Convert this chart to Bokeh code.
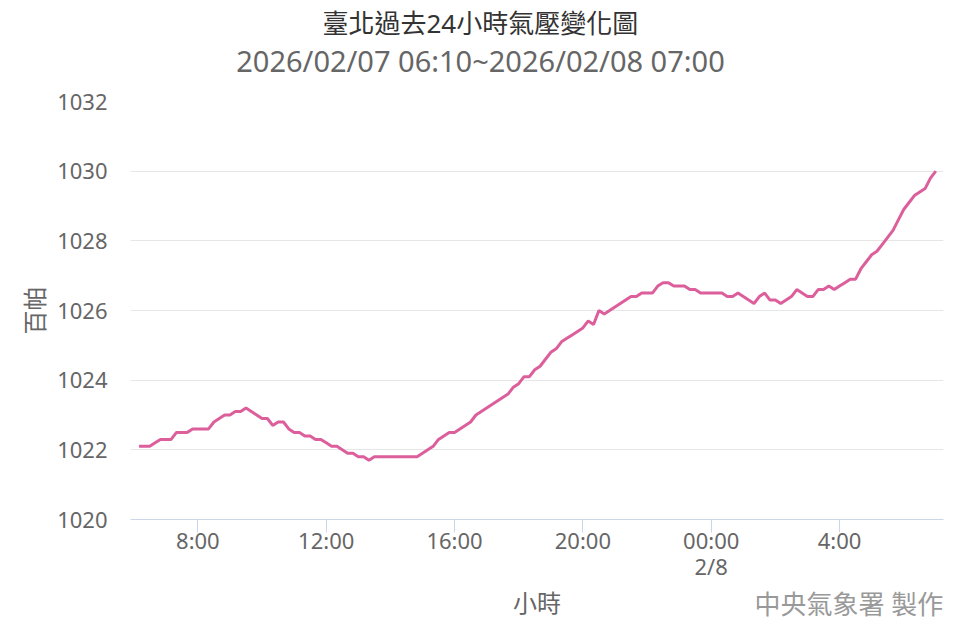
import pandas as pd
from bokeh.plotting import figure
from bokeh.models import FixedTicker, Title, Range1d, LinearAxis
from bokeh.embed import file_html
from bokeh.resources import INLINE

# ---- data ----
start_time = "2026-02-07 06:10"
end_time = "2026-02-08 07:00"
pressure = [
    1022.1, 1022.1, 1022.1, 1022.2, 1022.3, 1022.3, 1022.3, 1022.5, 1022.5,
    1022.5, 1022.6, 1022.6, 1022.6, 1022.6, 1022.8, 1022.9, 1023.0, 1023.0, 1023.1,
    1023.1, 1023.2, 1023.1, 1023.0, 1022.9, 1022.9, 1022.7, 1022.8, 1022.8, 1022.6,
    1022.5, 1022.5, 1022.4, 1022.4, 1022.3, 1022.3, 1022.2, 1022.1, 1022.1, 1022.0,
    1021.9, 1021.9, 1021.8, 1021.8, 1021.7, 1021.8, 1021.8, 1021.8, 1021.8, 1021.8,
    1021.8, 1021.8, 1021.8, 1021.8, 1021.9, 1022.0, 1022.1, 1022.3, 1022.4, 1022.5,
    1022.5, 1022.6, 1022.7, 1022.8, 1023.0, 1023.1, 1023.2, 1023.3, 1023.4, 1023.5,
    1023.6, 1023.8, 1023.9, 1024.1, 1024.1, 1024.3, 1024.4, 1024.6, 1024.8, 1024.9,
    1025.1, 1025.2, 1025.3, 1025.4, 1025.5, 1025.7, 1025.6, 1026.0, 1025.9, 1026.0,
    1026.1, 1026.2, 1026.3, 1026.4, 1026.4, 1026.5, 1026.5, 1026.5, 1026.7, 1026.8,
    1026.8, 1026.7, 1026.7, 1026.7, 1026.6, 1026.6, 1026.5, 1026.5, 1026.5, 1026.5,
    1026.5, 1026.4, 1026.4, 1026.5, 1026.4, 1026.3, 1026.2, 1026.4, 1026.5, 1026.3,
    1026.3, 1026.2, 1026.3, 1026.4, 1026.6, 1026.5, 1026.4, 1026.4, 1026.6, 1026.6,
    1026.7, 1026.6, 1026.7, 1026.8, 1026.9, 1026.9, 1027.2, 1027.4, 1027.6, 1027.7,
    1027.9, 1028.1, 1028.3, 1028.6, 1028.9, 1029.1, 1029.3, 1029.4, 1029.5, 1029.8,
    1030.0,
]
x_tick_hours = [8, 12, 16, 20, 24, 28]
x_tick_labels = ["8:00", "12:00", "16:00", "20:00", "00:00\n2/8", "4:00"]
y_ticks = [1020, 1022, 1024, 1026, 1028, 1030, 1032]

title_text = "臺北過去24小時氣壓變化圖"
subtitle_text = "2026/02/07 06:10~2026/02/08 07:00"
x_title = "小時"
y_title = "百帕"
credit_text = "中央氣象署 製作"

# observation times every 10 minutes; hours since 2026-02-07 00:00
times = pd.date_range(start_time, end_time, freq="10min")
day0 = pd.Timestamp("2026-02-07 00:00")
hours = [(t - day0) / pd.Timedelta("1h") for t in times]

LATIN = "Noto Sans, Noto Sans CJK TC"
CJK = "Noto Sans CJK TC, Noto Sans"

W, H = 944, 624
BL, BR, BT, BB = 130, 1, 101, 105
FRAME_W = W - BL - BR
X0, X1 = 5.9, 31.24


def px_to_x(px):
    """canvas pixel -> x data value (for placing text labels via ticks)"""
    return X0 + (px - BL) / FRAME_W * (X1 - X0)


p = figure(width=W, height=H, output_backend="svg", toolbar_location=None,
           title=None, min_border_left=BL, min_border_right=BR,
           min_border_top=BT, min_border_bottom=BB)
p.x_range = Range1d(X0, X1)
p.y_range = Range1d(1020, 1032)

p.line(hours, pressure, line_color="#dc5f9c", line_width=3)

# main x axis
xa = p.below[0]
xa.ticker = FixedTicker(ticks=x_tick_hours)
xa.major_label_overrides = {h: lab for h, lab in zip(x_tick_hours, x_tick_labels)}
xa.axis_line_color = "#ccd6eb"
xa.major_tick_line_color = "#ccd6eb"
xa.major_tick_out = 13
xa.major_tick_in = 0
xa.minor_tick_line_color = None
xa.major_label_text_font = LATIN
xa.major_label_text_font_size = "22px"
xa.major_label_text_line_height = 0.87
xa.major_label_text_color = "#666666"
xa.major_label_standoff = -8
xa.axis_label = x_title
xa.axis_label_text_font = CJK
xa.axis_label_text_font_size = "24px"
xa.axis_label_text_font_style = "normal"
xa.axis_label_text_color = "#666666"
xa.axis_label_standoff = 0

# y axis
ya = p.left[0]
ya.ticker = FixedTicker(ticks=y_ticks)
ya.axis_line_color = None
ya.major_tick_line_color = None
ya.minor_tick_line_color = None
ya.major_tick_out = 0
ya.major_tick_in = 0
ya.major_label_text_font = LATIN
ya.major_label_text_font_size = "22px"
ya.major_label_text_color = "#666666"
ya.major_label_standoff = 23
ya.axis_label = y_title
ya.axis_label_text_font = CJK
ya.axis_label_text_font_size = "24px"
ya.axis_label_text_font_style = "normal"
ya.axis_label_text_color = "#666666"
ya.axis_label_standoff = 3

# subtitle (an unticked axis above the plot, centred on the chart)
sub_x = px_to_x(480)
sub_axis = LinearAxis(ticker=FixedTicker(ticks=[sub_x]),
                      major_label_overrides={sub_x: subtitle_text})
sub_axis.axis_line_color = None
sub_axis.major_tick_line_color = None
sub_axis.minor_tick_line_color = None
sub_axis.major_tick_out = 0
sub_axis.major_tick_in = 0
sub_axis.major_label_text_font = LATIN
sub_axis.major_label_text_font_size = "29px"
sub_axis.major_label_text_color = "#666666"
sub_axis.major_label_standoff = 22
p.add_layout(sub_axis, "above")

# main title
p.add_layout(Title(text=title_text, align="left", offset=192, text_font=LATIN,
                   text_font_size="26px", text_color="#333333",
                   text_font_style="normal", standoff=-6), "above")

# credit (an unticked axis below, right-aligned to the plot edge)
credit_x = px_to_x(943 - 94.5)
credit_axis = LinearAxis(ticker=FixedTicker(ticks=[credit_x]),
                         major_label_overrides={credit_x: credit_text})
credit_axis.axis_line_color = None
credit_axis.major_tick_line_color = None
credit_axis.minor_tick_line_color = None
credit_axis.major_tick_out = 0
credit_axis.major_tick_in = 0
credit_axis.major_label_text_font = LATIN
credit_axis.major_label_text_font_size = "26px"
credit_axis.major_label_text_color = "#999999"
credit_axis.major_label_standoff = -36
p.add_layout(credit_axis, "below")

p.xgrid.visible = False
p.ygrid.ticker = FixedTicker(ticks=y_ticks)
p.ygrid.grid_line_color = "#e6e6e6"
p.ygrid.grid_line_width = 1
p.outline_line_color = None

open("out.html", "w").write(file_html(p, INLINE))
